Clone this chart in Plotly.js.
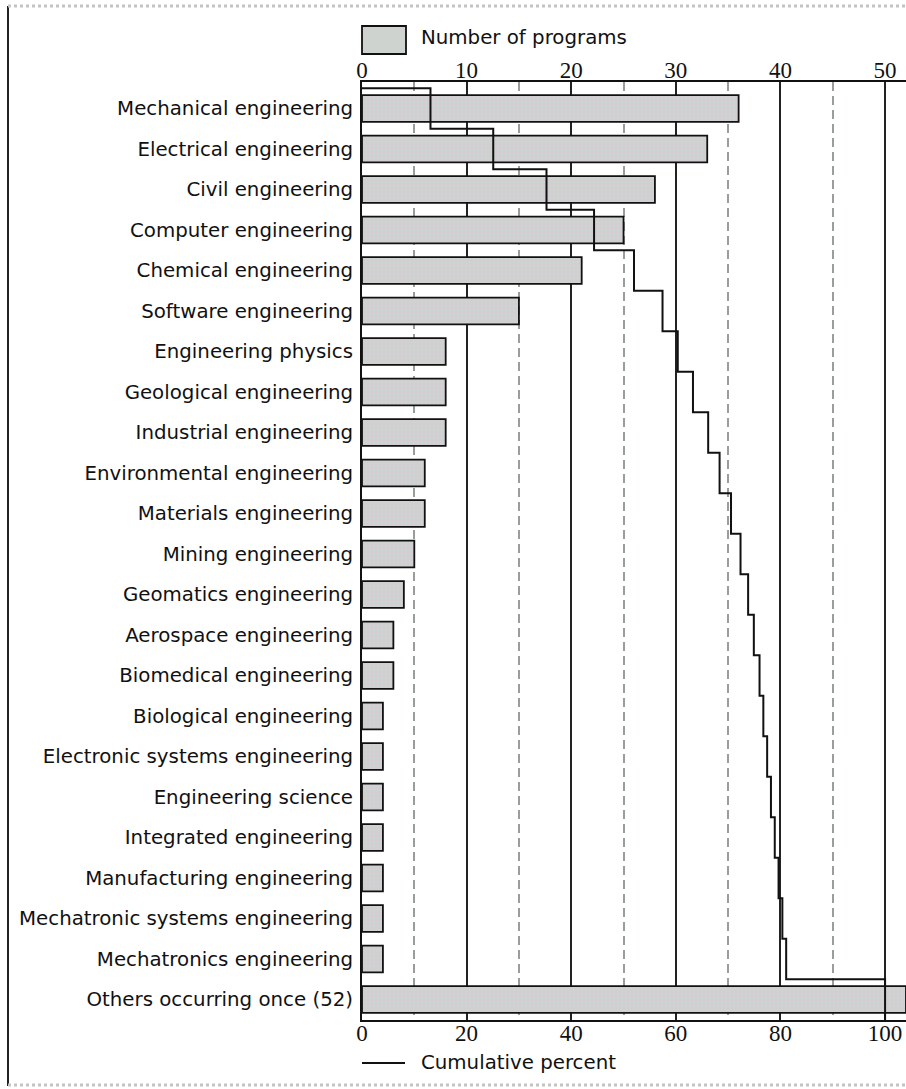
<!DOCTYPE html>
<html>
<head>
<meta charset="utf-8">
<script src="https://cdn.plot.ly/plotly-3.0.1.min.js"></script>
<style>
html,body{margin:0;padding:0;background:#fff;}
#chart{width:906px;height:1089px;}
</style>
</head>
<body>
<div id="chart"></div>
<script>
// ---- data ----
const categories = [
  "Mechanical engineering",
  "Electrical engineering",
  "Civil engineering",
  "Computer engineering",
  "Chemical engineering",
  "Software engineering",
  "Engineering physics",
  "Geological engineering",
  "Industrial engineering",
  "Environmental engineering",
  "Materials engineering",
  "Mining engineering",
  "Geomatics engineering",
  "Aerospace engineering",
  "Biomedical engineering",
  "Biological engineering",
  "Electronic systems engineering",
  "Engineering science",
  "Integrated engineering",
  "Manufacturing engineering",
  "Mechatronic systems engineering",
  "Mechatronics engineering",
  "Others occurring once (52)"
];
const programs = [36, 33, 28, 25, 21, 15, 8, 8, 8, 6, 6, 5, 4, 3, 3, 2, 2, 2, 2, 2, 2, 2, 52];
const countTicks = [0, 10, 20, 30, 40, 50];
const countMinorTicks = [5, 15, 25, 35, 45];
const percentTicks = [0, 20, 40, 60, 80, 100];

// ---- derived ----
const positions = categories.map((_, i) => i);
const total = programs.reduce((a, b) => a + b, 0);
const cumPercent = [];
let run = 0;
programs.forEach(v => { run += v; cumPercent.push(run / total * 100); });

// step line: horizontal at band boundaries, vertical through each band
const stepX = [0];
const stepY = [-0.5];
cumPercent.forEach((c, i) => {
  stepX.push(c, c);
  stepY.push(i - 0.5, i + 0.5);
});

const sans = "DejaVu Sans, sans-serif";
const serif = "Liberation Serif, Times New Roman, serif";

const bars = {
  type: "bar",
  orientation: "h",
  x: programs,
  y: positions,
  xaxis: "x",
  yaxis: "y",
  width: 0.66,
  name: "Number of programs",
  showlegend: false,
  hoverinfo: "x+text",
  text: categories,
  textposition: "none",
  marker: {
    color: "#cfd3cf",
    line: {color: "#111", width: 1.8},
    pattern: {shape: ".", bgcolor: "#cfd3cf", fgcolor: "#dcc2dc", size: 4, solidity: 0.15}
  }
};

const cumLine = {
  type: "scatter",
  mode: "lines",
  x: stepX,
  y: stepY,
  xaxis: "x2",
  yaxis: "y",
  name: "Cumulative percent",
  showlegend: false,
  line: {color: "#111", width: 2}
};

// pixel helpers for decorations (plot area: x 362..906, y 82..1020)
const L = 362, R = 906, T = 82, B = 1020;
const px = v => (v - L) / (R - L);
const py = v => (B - v) / (B - T);

const layout = {
  width: 906,
  height: 1089,
  margin: {l: L, r: 906 - R, t: T, b: 1089 - B, pad: 0},
  paper_bgcolor: "#ffffff",
  plot_bgcolor: "#ffffff",
  showlegend: false,
  xaxis: {
    range: [0, 52],
    side: "top",
    tickvals: countTicks,
    ticktext: countTicks.map(String),
    ticks: "",
    ticklabelstandoff: -7,
    tickfont: {family: serif, size: 23, color: "#111"},
    showline: true,
    linecolor: "#111",
    linewidth: 2,
    showgrid: true,
    gridcolor: "#222",
    gridwidth: 2,
    minor: {tickvals: countMinorTicks, showgrid: true, gridcolor: "#9a9e9a", gridwidth: 2, griddash: "9px,5px"},
    zeroline: false,
    fixedrange: true
  },
  xaxis2: {
    overlaying: "x",
    anchor: "y",
    side: "bottom",
    range: [0, 104],
    tickvals: percentTicks,
    ticktext: percentTicks.map(String),
    ticks: "",
    ticklabelstandoff: -9,
    tickfont: {family: serif, size: 23, color: "#111"},
    showline: true,
    linecolor: "#111",
    linewidth: 2,
    showgrid: false,
    zeroline: false,
    fixedrange: true
  },
  yaxis: {
    range: [22.506, -0.654],
    tickvals: positions,
    ticktext: categories,
    ticks: "",
    ticklabelstandoff: 3,
    tickfont: {family: sans, size: 19.8, color: "#111"},
    showline: true,
    linecolor: "#111",
    linewidth: 2,
    showgrid: false,
    zeroline: false,
    fixedrange: true
  },
  shapes: [
    // frame
    {type: "line", xref: "paper", yref: "paper", x0: px(8), x1: px(8), y0: py(6), y1: py(1086), line: {color: "#222", width: 2}},
    {type: "line", xref: "paper", yref: "paper", x0: px(8), x1: px(906), y0: py(6), y1: py(6), line: {color: "#c4c4c4", width: 3, dash: "dot"}},
    {type: "line", xref: "paper", yref: "paper", x0: px(8), x1: px(906), y0: py(1085), y1: py(1085), line: {color: "#c4c4c4", width: 3, dash: "dot"}},
    // legend: bar swatch
    {type: "rect", xref: "paper", yref: "paper", x0: px(362), x1: px(406), y0: py(54), y1: py(26), fillcolor: "#cfd3cf", line: {color: "#111", width: 1.8}},
    // legend: line swatch
    {type: "line", xref: "paper", yref: "paper", x0: px(362), x1: px(405), y0: py(1063), y1: py(1063), line: {color: "#111", width: 2}}
  ],
  annotations: [
    {xref: "paper", yref: "paper", x: px(419), y: py(38), xanchor: "left", yanchor: "middle", showarrow: false,
     text: "Number of programs", font: {family: sans, size: 19.8, color: "#111"}},
    {xref: "paper", yref: "paper", x: px(419), y: py(1062), xanchor: "left", yanchor: "middle", showarrow: false,
     text: "Cumulative percent", font: {family: sans, size: 19.8, color: "#111"}}
  ]
};

Plotly.newPlot("chart", [bars, cumLine], layout, {displayModeBar: false, staticPlot: true});
</script>
</body>
</html>
